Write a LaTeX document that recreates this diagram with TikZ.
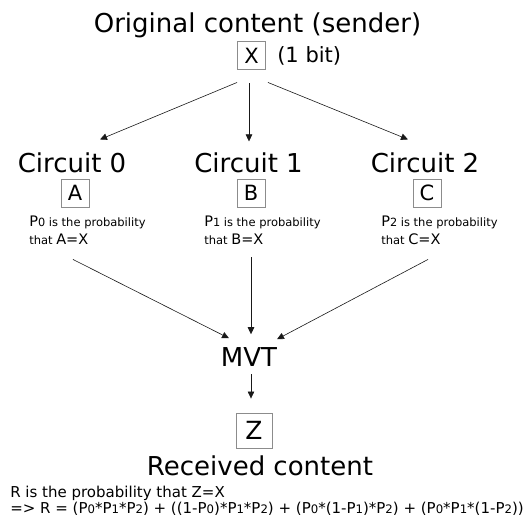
\documentclass[tikz,border=0pt]{standalone}
\usepackage{fontspec}
\setmainfont{DejaVu Sans}
\usetikzlibrary{arrows.meta}
\newcommand\pn[1]{P\raisebox{-.4pt}{\scalebox{.78}{#1}}}
\newcommand\lgtxt[1]{{\fontsize{14.5}{18}\selectfont#1}}

\begin{document}
\begin{tikzpicture}[x=1pt,y=-1pt,line width=.6pt,
 box/.style={draw=black!45,line width=.9pt,minimum width=28pt,minimum height=28pt,inner sep=0pt,font=\fontsize{21}{21}\selectfont},
 big/.style={font=\fontsize{26}{26}\selectfont,inner sep=0pt,anchor=base},
 note/.style={font=\fontsize{11.5}{18}\selectfont,align=left,inner sep=0pt,anchor=base west},
 arr/.style={-{Triangle[length=7pt,width=6.5pt]},black!90}]
\useasboundingbox (0,0) rectangle (525,522);
\node[big] (orig) at (257.5,32) {Original content (sender)};
\node[box] (x) at (251.5,55.5) {X};\node[font=\fontsize{21}{21}\selectfont,anchor=base west,inner sep=0pt] (bit) at (277,62) {(1 bit)};
\node[big] (c0) at (72,172) {Circuit 0};\node[big] (c1) at (248.5,172) {Circuit 1};\node[big] (c2) at (425,172) {Circuit 2};
\node[box] (a) at (75,193) {A};\node[box] (b) at (251,193) {B};\node[box] (c) at (427,193) {C};
\node[note] (p0) at (29,244) {\lgtxt{\pn0} is the probability\\that \lgtxt{A=X}};
\node[note] (p1) at (204,244) {\lgtxt{\pn1} is the probability\\that \lgtxt{B=X}};
\node[note] (p2) at (381,244) {\lgtxt{\pn2} is the probability\\that \lgtxt{C=X}};
\node[big] (mvt) at (249,366) {MVT};
\node[box,minimum width=36pt,minimum height=35pt,font=\fontsize{25}{25}\selectfont] (z) at (254,430.5) {Z};
\node[big] (recv) at (260,475) {Received content};
\node[anchor=base west,inner sep=0pt,font=\fontsize{15}{15}\selectfont] (r) at (10,497) {R is the probability that Z=X};
\node[anchor=base west,inner sep=0pt,font=\fontsize{15}{15}\selectfont] (eq) at (10,513) {=> R = (\pn0*\pn1*\pn2) + ((1-\pn0)*\pn1*\pn2) + (\pn0*(1-\pn1)*\pn2) + (\pn0*\pn1*(1-\pn2))};
\draw[arr] ([yshift=-12.5pt]x.south west)--([xshift=28pt,yshift=12.5pt]c0.north);
\draw[arr] ([xshift=-2.5pt,yshift=-13.5pt]x.south)--([xshift=.5pt,yshift=10.5pt]c1.north);
\draw[arr] ([xshift=2pt,yshift=-12.5pt]x.south east)--([xshift=-17pt,yshift=12.5pt]c2.north);
\draw[arr] ([xshift=-2pt,yshift=-52pt]a.south)--([xshift=-20pt,yshift=8.5pt]mvt.north);
\draw[arr] ([yshift=-50pt]b.south)--([xshift=2pt,yshift=12.5pt]mvt.north);
\draw[arr] ([xshift=1pt,yshift=-52pt]c.south)--([xshift=28pt,yshift=7.5pt]mvt.north);
\draw[arr] ([xshift=2pt,yshift=-8pt]mvt.south)--([xshift=-3pt,yshift=14pt]z.north);
\end{tikzpicture}
\end{document}
